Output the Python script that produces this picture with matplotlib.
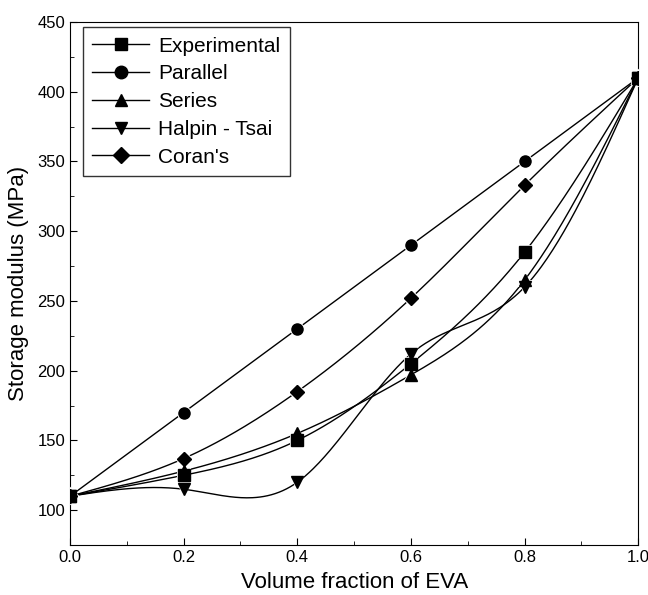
import numpy as np
import matplotlib
matplotlib.use('Agg')
from matplotlib import pyplot as plt
from matplotlib.ticker import MultipleLocator

plt.rcParams['font.family'] = ['Liberation Sans', 'DejaVu Sans']

# volume fraction of EVA
x = [0.0, 0.2, 0.4, 0.6, 0.8, 1.0]

experimental = [110, 125, 150, 205, 285, 410]
parallel = [110, 170, 230, 290, 350, 410]
series = [110, 128, 155, 197, 265, 410]
halpin_tsai = [110, 115, 120, 212, 260, 410]
corans = [110, 137, 185, 252, 333, 410]

names = ['Experimental', 'Parallel', 'Series', 'Halpin - Tsai', "Coran's"]
markers = ['s', 'o', '^', 'v', 'D']


def spline(xs, ys, n=300):
    # natural cubic spline, just for drawing the smooth line
    xs = np.asarray(xs, float)
    ys = np.asarray(ys, float)
    m = len(xs)
    h = np.diff(xs)
    A = np.zeros((m, m))
    r = np.zeros(m)
    A[0, 0] = 1
    A[-1, -1] = 1
    for i in range(1, m - 1):
        A[i, i - 1] = h[i - 1]
        A[i, i] = 2 * (h[i - 1] + h[i])
        A[i, i + 1] = h[i]
        r[i] = 6 * ((ys[i + 1] - ys[i]) / h[i] - (ys[i] - ys[i - 1]) / h[i - 1])
    M = np.linalg.solve(A, r)
    xx = np.linspace(xs[0], xs[-1], n)
    k = np.clip(np.searchsorted(xs, xx) - 1, 0, m - 2)
    t0 = xs[k + 1] - xx
    t1 = xx - xs[k]
    hk = h[k]
    yy = (M[k] * t0**3 + M[k + 1] * t1**3) / (6 * hk) \
        + (ys[k] / hk - M[k] * hk / 6) * t0 \
        + (ys[k + 1] / hk - M[k + 1] * hk / 6) * t1
    return xx, yy


fig = plt.figure(figsize=(6.48, 5.95), dpi=100)
ax = fig.add_axes([0.108, 0.084, 0.877, 0.879])

for ys, name, mk in zip([experimental, parallel, series, halpin_tsai, corans], names, markers):
    xx, yy = spline(x, ys)
    ax.plot(xx, yy, color='black', lw=1.0, zorder=2)
    ax.plot(x, ys, linestyle='none', marker=mk, color='black', ms=9 if mk != 'D' else 8,
            mec='white', mew=1.4, zorder=3)
    ax.plot(x, ys, linestyle='none', marker=mk, color='black', ms=8 if mk != 'D' else 7,
            zorder=4)
    # legend proxy
    ax.plot([], [], color='black', lw=1.0, marker=mk, ms=9 if mk != 'D' else 8, label=name)

ax.set_xlim(0, 1.0)
ax.set_ylim(75, 450)
ax.xaxis.set_major_locator(MultipleLocator(0.2))
ax.xaxis.set_minor_locator(MultipleLocator(0.1))
ax.yaxis.set_major_locator(MultipleLocator(50))
ax.yaxis.set_minor_locator(MultipleLocator(25))
ax.set_yticks([100, 150, 200, 250, 300, 350, 400, 450])
ax.tick_params(which='both', direction='in', labelsize=12)
ax.tick_params(which='major', length=5)
ax.tick_params(which='minor', length=3)
ax.xaxis.set_major_formatter(matplotlib.ticker.FormatStrFormatter('%.1f'))

ax.set_xlabel('Volume fraction of EVA', fontsize=16, labelpad=5)
ax.set_ylabel('Storage modulus (MPa)', fontsize=16, labelpad=6)

leg = ax.legend(loc='upper left', fontsize=15, frameon=True, fancybox=False,
                edgecolor='black', handlelength=2.7, handletextpad=0.45,
                borderpad=0.45, labelspacing=0.42, borderaxespad=0,
                bbox_to_anchor=(0.023, 0.99))
leg.get_frame().set_linewidth(1.0)

fig.savefig('out.png', dpi=100)
